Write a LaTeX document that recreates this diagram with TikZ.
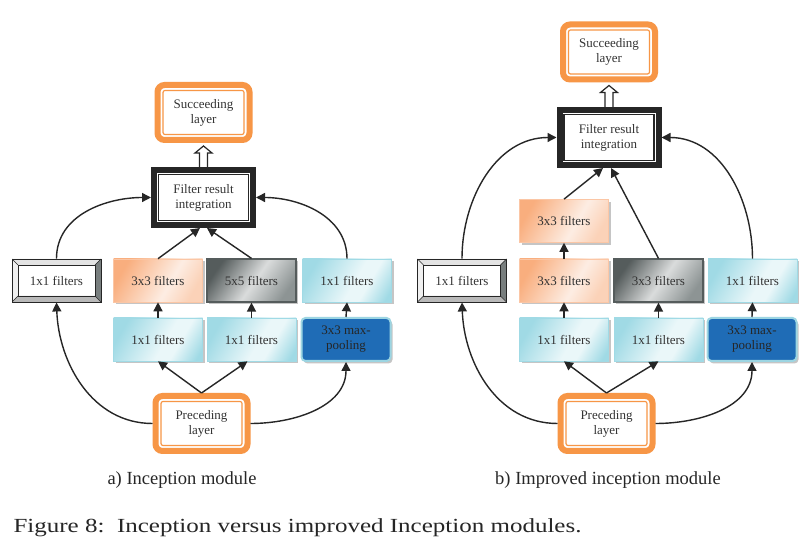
\documentclass[tikz,border=0pt]{standalone}
\usepackage{fontspec}
\setmainfont{Liberation Serif}
\newfontfamily\capfont[FakeStretch=1.25]{Liberation Serif}
\usetikzlibrary{arrows.meta,shadows}

\definecolor{ora}{HTML}{F79646}
\definecolor{orD}{HTML}{F9AE7E}
\definecolor{orM}{HTML}{FBD2B8}
\definecolor{orW}{HTML}{FDEDE3}
\definecolor{cyD}{HTML}{A0DAE5}
\definecolor{cyW}{HTML}{EAF7F9}
\definecolor{grD}{HTML}{555C5C}
\definecolor{grW}{HTML}{DADCDC}
\definecolor{grM}{HTML}{8D9494}
\definecolor{poolblue}{HTML}{1F6CB6}
\definecolor{poolrim}{HTML}{9CD5E2}
\definecolor{txt}{HTML}{333333}

\pgfdeclarehorizontalshading{orshade}{100bp}{color(0bp)=(orD); color(25bp)=(orD); color(58bp)=(orW); color(75bp)=(orM); color(100bp)=(orM)}
\pgfdeclarehorizontalshading{cyshade}{100bp}{color(0bp)=(cyD); color(25bp)=(cyD); color(55bp)=(cyW); color(64bp)=(cyW); color(80bp)=(cyD); color(100bp)=(cyD)}
\pgfdeclarehorizontalshading{grshade}{100bp}{color(0bp)=(grD); color(25bp)=(grD); color(52bp)=(grW); color(75bp)=(grM); color(100bp)=(grM)}

\tikzset{
  every node/.style={font=\fontsize{13}{15}\selectfont, text=txt, align=center},
  layer/.style={draw=ora, line width=6pt, rounded corners=7pt, fill=white,
    minimum width=92pt, minimum height=55pt},
  integ/.style={draw=black!85, line width=6pt, fill=white,
    minimum width=99pt, minimum height=55pt},
  boxbase/.style={minimum width=89pt, minimum height=43pt, inner sep=1pt},
  shadowed/.style={drop shadow={shadow xshift=2pt, shadow yshift=-2.5pt, fill=black!45, opacity=0.5}},
  orbox/.style={boxbase, shadowed, shading=orshade, shading angle=-30, draw=orD!70, line width=0.6pt},
  grbox/.style={boxbase, shadowed, shading=grshade, shading angle=-35, draw=grD, line width=1.2pt},
  cybox/.style={boxbase, shadowed, shading=cyshade, shading angle=-30, draw=cyD, line width=0.6pt},
  pool/.style={boxbase, shadowed, fill=poolblue, draw=poolrim, line width=2pt, rounded corners=4pt, text=black!85},
  bevel/.style={boxbase, draw=black!85, fill=white, line width=0.9pt,
    path picture={
      \def\pbb{path picture bounding box}
      \fill[gray!22] (\pbb.north west) -- (\pbb.north east) -- ([shift={(-6pt,-6pt)}]\pbb.north east) -- ([shift={(6pt,-6pt)}]\pbb.north west) -- cycle;
      \fill[gray!12] (\pbb.north west) -- (\pbb.south west) -- ([shift={(6pt,6pt)}]\pbb.south west) -- ([shift={(6pt,-6pt)}]\pbb.north west) -- cycle;
      \fill[grM!85!black] (\pbb.north east) -- (\pbb.south east) -- ([shift={(-6pt,6pt)}]\pbb.south east) -- ([shift={(-6pt,-6pt)}]\pbb.north east) -- cycle;
      \fill[gray!55] (\pbb.south west) -- (\pbb.south east) -- ([shift={(-6pt,6pt)}]\pbb.south east) -- ([shift={(6pt,6pt)}]\pbb.south west) -- cycle;
      \draw[black!85, line width=0.8pt] ([shift={(6pt,-6pt)}]\pbb.north west) rectangle ([shift={(-6pt,6pt)}]\pbb.south east);
      \draw[black!85, line width=0.6pt] (\pbb.north west) -- ([shift={(6pt,-6pt)}]\pbb.north west)
        (\pbb.north east) -- ([shift={(-6pt,-6pt)}]\pbb.north east)
        (\pbb.south west) -- ([shift={(6pt,6pt)}]\pbb.south west)
        (\pbb.south east) -- ([shift={(-6pt,6pt)}]\pbb.south east);
    }},
  link/.style={draw=black!85, line width=1.4pt, -{Triangle[length=9pt,width=9pt]}},
  hollow/.style={draw=black!85, line width=1.2pt, fill=white, line join=miter},
  caption/.style={font=\fontsize{18.5}{22}\selectfont, text=black!85}
}

\begin{document}
\begin{tikzpicture}[x=1pt,y=1pt]
  \useasboundingbox[fill=white] (0,0) rectangle (812,556);

  % a) inception module
  \node[layer] (suc1) at (203.5,443.5) {Succeeding\\layer};
  \node[integ] (int1) at (203.5,358.5) {Filter result\\integration};
  \node[bevel] (b1) at (56.5,275.5) {1x1 filters};
  \node[orbox] (o1) at (158,275.5) {3x3 filters};
  \node[grbox] (g1) at (251.5,275.5) {5x5 filters};
  \node[cybox] (c1) at (347,275.5) {1x1 filters};
  \node[cybox] (c2) at (158,216.5) {1x1 filters};
  \node[cybox] (c3) at (251.5,216.5) {1x1 filters};
  \node[pool] (mp1) at (346,216.5) {3x3 max-\\pooling};
  \node[layer] (pre1) at (201.5,132.5) {Preceding\\layer};

  % b) improved inception module
  \node[layer] (suc2) at (609,504) {Succeeding\\layer};
  \node[integ] (int2) at (609,418.5) {Filter result\\integration};
  \node[orbox] (o2t) at (564,335) {3x3 filters};
  \node[bevel] (b2) at (462,275.5) {1x1 filters};
  \node[orbox] (o2) at (564,275.5) {3x3 filters};
  \node[grbox] (g2) at (658.5,275.5) {3x3 filters};
  \node[cybox] (c4) at (752.5,275.5) {1x1 filters};
  \node[cybox] (c5) at (564,216.5) {1x1 filters};
  \node[cybox] (c6) at (658.5,216.5) {1x1 filters};
  \node[pool] (mp2) at (752,216.5) {3x3 max-\\pooling};
  \node[layer] (pre2) at (606.5,132.5) {Preceding\\layer};

  % inner rims
  \foreach \n in {suc1,pre1,suc2,pre2}
    \draw[ora, line width=1.2pt, rounded corners=2pt] ([shift={(8.5pt,-8.5pt)}]\n.north west) rectangle ([shift={(-8.5pt,8.5pt)}]\n.south east);
  \foreach \n in {int1,int2}
    \draw[black!85, line width=1.2pt] ([shift={(7.5pt,-7.5pt)}]\n.north west) rectangle ([shift={(-7.5pt,7.5pt)}]\n.south east);

  % hollow arrows
  \foreach \i/\s in {int1/suc1,int2/suc2}
    \draw[hollow] ([xshift=-4pt]\i.north) -- ([xshift=-4pt,yshift=-10pt]\s.south) -- ([xshift=-8.5pt,yshift=-10pt]\s.south)
      -- ([yshift=-3pt]\s.south) -- ([xshift=8.5pt,yshift=-10pt]\s.south) -- ([xshift=4pt,yshift=-10pt]\s.south) -- ([xshift=4pt]\i.north);

  % links a
  \draw[link] (pre1.north) -- (c2.south);
  \draw[link] (pre1.north) -- ([xshift=-4pt]c3.south);
  \draw[link] (pre1.west) to[out=180,in=-88] (b1.south);
  \draw[link] (pre1.east) to[out=0,in=-90] (mp1.south);
  \draw[link] (c2.north) -- (o1.south);
  \draw[link] (c3.north) -- (g1.south);
  \draw[link] (mp1.north) -- (c1.south);
  \draw[link] (o1.north) -- ([xshift=-3.5pt]int1.south);
  \draw[link] (g1.north) -- ([xshift=3.5pt]int1.south);
  \draw[link] (b1.north) to[out=90,in=180] (int1.west);
  \draw[link] (c1.north) to[out=90,in=0] (int1.east);

  % links b
  \draw[link] (pre2.north) -- (c5.south);
  \draw[link] (pre2.north) -- (c6.south);
  \draw[link] (pre2.west) to[out=180,in=-88] (b2.south);
  \draw[link] (pre2.east) to[out=0,in=-90] (mp2.south);
  \draw[link] (c5.north) -- (o2.south);
  \draw[link] (c6.north) -- (g2.south);
  \draw[link] (mp2.north) -- (c4.south);
  \draw[link] (o2.north) -- (o2t.south);
  \draw[link] (o2t.north) -- ([xshift=-6pt]int2.south);
  \draw[link] (g2.north) -- ([xshift=2pt]int2.south);
  \draw[link] (b2.north) to[out=90,in=180] (int2.west);
  \draw[link] (c4.north) to[out=90,in=0] (int2.east);

  % captions
  \node[caption] (capa) at (182,76) {a) Inception module};
  \node[caption] (capb) at (608,76) {b) Improved inception module};
  \node[caption, font=\capfont\fontsize{20}{24}\selectfont, anchor=west] (fig) at (10,28) {Figure 8:\ \ Inception versus improved Inception modules.};
\end{tikzpicture}
\end{document}
